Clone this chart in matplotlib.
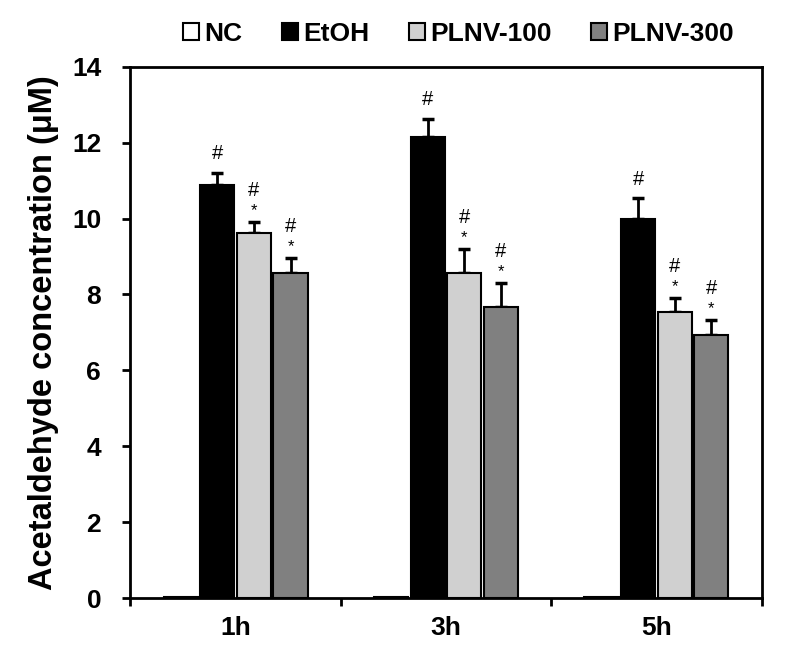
import numpy as np
import matplotlib.pyplot as plt
from matplotlib.patches import Patch

plt.rcParams['font.family'] = ['Liberation Sans', 'DejaVu Sans']
plt.rcParams['font.weight'] = 'bold'

# Data
times = ['1h', '3h', '5h']
groups = ['NC', 'EtOH', 'PLNV-100', 'PLNV-300']
nc = [0.03, 0.03, 0.03]
etoh = [10.89, 12.15, 10.0]
plnv100 = [9.63, 8.56, 7.54]
plnv300 = [8.56, 7.66, 6.92]
nc_err = [0.0, 0.0, 0.0]
etoh_err = [0.32, 0.47, 0.53]
plnv100_err = [0.27, 0.63, 0.36]
plnv300_err = [0.40, 0.63, 0.41]

values = [nc, etoh, plnv100, plnv300]
errors = [nc_err, etoh_err, plnv100_err, plnv300_err]
colors = ['white', 'black', '#d0d0d0', '#808080']

fig = plt.figure(figsize=(8, 6.55), dpi=100)
ax = fig.add_axes([0.163, 0.087, 0.789, 0.811])

x = np.arange(len(times))
width = 0.162
step = 0.174
for i, (vals, errs, col) in enumerate(zip(values, errors, colors)):
    pos = x + (i - 1.5) * step
    ax.bar(pos, vals, width, color=col, edgecolor='black', linewidth=1.5, zorder=2)
    if i > 0:
        ax.errorbar(pos, vals, yerr=[np.zeros(len(errs)), errs], fmt='none',
                    ecolor='black', elinewidth=2, capsize=4, capthick=2.5, zorder=1)
        for p, v, e in zip(pos, vals, errs):
            if i == 1:
                ax.annotate('#', (p, v + e), xytext=(0, 7), textcoords='offset points',
                            ha='center', va='bottom', fontsize=14.5, fontweight='normal')
            else:
                ax.annotate('*', (p, v + e), xytext=(0, 3), textcoords='offset points',
                            ha='center', va='bottom', fontsize=12, fontweight='normal')
                ax.annotate('#', (p, v + e), xytext=(0, 16), textcoords='offset points',
                            ha='center', va='bottom', fontsize=14.5, fontweight='normal')

ax.set_xlim(-0.5, 2.5)
ax.set_ylim(0, 14)
ax.set_yticks(np.arange(0, 15, 2))
ax.set_xticks([-0.5, 0.5, 1.5, 2.5])
ax.set_xticklabels([])
ax.set_xticks(x, minor=True)
ax.set_xticklabels(times, minor=True)
ax.tick_params(axis='x', which='minor', length=0, pad=13, labelsize=19)
ax.tick_params(axis='x', which='major', direction='out', length=6, width=2)
ax.tick_params(axis='y', direction='out', length=6, width=2, labelsize=19, pad=15)
for s in ax.spines.values():
    s.set_linewidth(2)

ax.set_ylabel('Acetaldehyde concentration (μM)', fontsize=23.5, fontweight='bold', labelpad=9)

handles = [Patch(facecolor=c, edgecolor='black', linewidth=1.5) for c in colors]
ax.legend(handles, groups, ncol=4, loc='lower center', bbox_to_anchor=(0.52, 0.995),
          frameon=False, handlelength=0.6, handleheight=0.6, handletextpad=0.2,
          columnspacing=1.5, prop={'size': 19, 'weight': 'bold'})

fig.savefig('out.png', dpi=100)
